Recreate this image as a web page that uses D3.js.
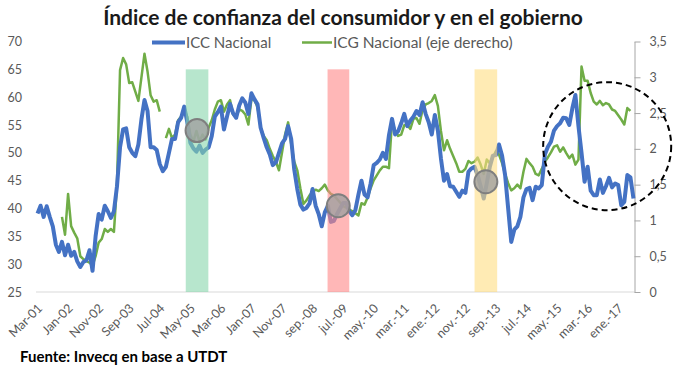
<!DOCTYPE html>
<html><head><meta charset="utf-8">
<script src="https://cdn.jsdelivr.net/npm/d3@7"></script>
<style>
body{margin:0;background:#fff;}
svg{display:block;font-family:Lato,"Open Sans",sans-serif;}
</style></head><body>
<svg id="c" width="679" height="369"></svg>
<script>
// Monthly data: Mar-2001 .. Jun-2017 (196 months)
const icc = [39.1,40.5,38.5,40.4,38.5,36.8,33.5,32.2,34,31.6,33.5,31.5,32.2,30.5,29.5,30.4,30.7,32.5,28.8,35,
39,38,40.5,39.5,38.3,39.5,44,51,54.2,54.4,51,50,49.4,51.5,56,59.5,57.5,51,51,50.5,
48,46.7,47.5,50,52.5,52.5,55.5,56.3,58.3,55.5,51.8,50.8,50.2,51.3,50,50.6,51,53,56.5,57.3,
58.3,54.2,56.5,58.8,57.1,56.3,58.5,59.8,59,57,60.7,59.6,58.7,54.5,52.7,51,49.7,47.8,48.3,50,
51.7,52.5,54.8,52.5,47,43.5,40.7,39.8,40.1,40.9,43.5,40.5,39,36.8,39.3,40.5,37.6,37.8,39,40,
41,41,39.5,38.8,39.7,42.5,45,42.5,42,44.5,47.8,48.2,48.8,50,48.9,53.2,56.1,53.3,53.9,55.3,
57,54.8,55.8,56.5,57.5,56.8,59.1,57,55.5,53.3,56.8,54,49,45,46.2,44,43.9,43,42.1,43.2,
42.8,46.6,47.2,47.5,46,44,41.8,44.5,47.5,49.5,49.6,51.5,49.5,46,40,34,36.2,36.8,38.5,42,
43.5,43.7,41.5,43.9,43.6,44.2,49.7,51.1,52,54,54.8,55.3,56.3,56.2,55,58,60.4,54.8,50,44.8,
47.5,43.2,42.4,42.4,45.2,42.8,44,45.5,43.8,44.5,44.2,40.6,41.2,46,45.6,41.8];
const icg = [null,null,null,null,null,null,null,null,1.05,0.8,1.37,0.92,0.83,0.75,0.5,0.46,0.43,0.41,0.37,0.5,
0.69,0.74,0.88,0.84,0.88,0.84,1.5,3.1,3.27,3.18,2.92,2.93,2.8,2.67,3.0,3.33,3.08,2.75,2.66,2.68,
2.52,null,2.15,2.28,2.15,2.2,2.4,2.45,2.55,2.45,2.2,2.1,2.25,2.1,2.2,2.13,2.3,2.4,2.55,2.66,
2.68,2.52,2.62,2.68,2.48,2.45,2.55,2.53,2.48,2.34,2.7,2.68,2.58,2.3,2.18,2.12,2.0,1.9,1.82,1.7,
1.95,2.2,2.37,2.07,1.82,1.7,1.45,1.23,1.28,1.35,1.4,1.43,1.41,1.45,1.5,1.42,1.37,1.35,1.3,1.25,
1.2,1.18,1.15,1.13,1.1,1.07,1.24,1.22,1.32,1.45,1.56,1.63,1.7,1.75,1.75,1.73,2.4,2.25,2.18,2.2,
2.33,2.33,2.28,2.42,2.43,2.35,2.55,2.62,2.64,2.67,2.75,2.6,2.25,1.98,2.12,2.0,1.9,1.8,1.68,1.68,
1.72,1.83,1.8,1.82,1.88,1.78,1.65,1.85,1.8,1.88,1.97,1.92,1.8,1.65,1.52,1.42,1.45,1.5,1.45,1.68,
1.86,1.8,1.75,1.65,1.63,1.72,1.82,1.88,1.95,2.03,2.05,1.96,2.02,1.94,1.87,1.92,1.78,1.85,3.15,2.95,
2.95,2.78,2.66,2.62,2.67,2.61,2.64,2.62,2.55,2.53,2.47,2.41,2.34,2.57,2.53,null];
const tickIdx = [0,10,20,30,40,50,60,70,80,90,100,110,120,130,140,150,160,170,180,190];
const tickLabels = ["Mar-01","Jan-02","Nov-02","Sep-03","Jul-04","May-05","Mar-06","Jan-07","Nov-07","sep.-08",
"jul.-09","may.-10","mar.-11","ene.-12","nov.-12","sep.-13","jul.-14","may.-15","mar.-16","ene.-17"];
const leftTicks = [25,30,35,40,45,50,55,60,65,70];
const rightTicks = [0,0.5,1,1.5,2,2.5,3,3.5];
// highlighted periods (month-position start/end, band top value on left axis)
const bandStart = [49, 95.4, 143.5];
const bandEnd = [56.4, 102.5, 150.9];
const bandTop = 65;
const bandColors = ["rgb(135,213,172)","rgb(255,135,135)","rgb(255,222,130)"];
// circle markers (month position, left-axis value)
const markPos = [52.7, 98.9, 147.2];
const markVal = [54.0, 40.5, 44.8];
const dashPos = 186.9, dashVal = 51.2;

const N = icc.length;
const svg = d3.select("#c");
const x = d3.scaleLinear().domain([0, N]).range([36, 635]);
const yL = d3.scaleLinear().domain([25, 70]).range([292, 41.5]);
const yR = d3.scaleLinear().domain([0, 3.5]).range([292, 41.5]);
const txt = "#595959";

// title
svg.append("text").attr("x", 343).attr("y", 25).attr("text-anchor", "middle")
  .style("font-size", "21px").style("font-weight", "700").attr("fill", "#1a1a1a")
  .text("Índice de confianza del consumidor y en el gobierno");

// baseline
svg.append("line").attr("x1", 36).attr("x2", 634.5).attr("y1", yL(25)).attr("y2", yL(25))
  .attr("stroke", "#d9d9d9").attr("stroke-width", 1);

// left axis
const gl = svg.append("g").attr("transform", "translate(22,0)")
  .call(d3.axisLeft(yL).tickValues(leftTicks).tickSize(0).tickPadding(0));
gl.select(".domain").remove();
gl.selectAll("text").style("font-size", "12.5px").style("font-family", "Lato").attr("fill", txt);

// right axis
const loc = d3.formatLocale({decimal: ",", thousands: ".", grouping: [3], currency: ["$", ""]});
const gr = svg.append("g").attr("transform", "translate(634.5,0)")
  .call(d3.axisRight(yR).tickValues(rightTicks).tickSize(6).tickSizeOuter(0).tickPadding(9).tickFormat(loc.format("~g")));
gr.select(".domain").attr("stroke", "#a6a6a6");
gr.selectAll("line").attr("stroke", "#a6a6a6");
gr.selectAll("text").style("font-size", "12.5px").style("font-family", "Lato").attr("fill", txt);

// x axis labels
const gx = svg.append("g").attr("transform", "translate(0,292)")
  .call(d3.axisBottom(x).tickValues(tickIdx.map(d => d + 0.5)).tickSize(0)
    .tickFormat((d, i) => tickLabels[i]));
gx.select(".domain").remove();
gx.selectAll("text").attr("y", 0).attr("dy", 0).attr("text-anchor", "end")
  .attr("transform", "translate(5,17) rotate(-45)")
  .style("font-size", "12.5px").style("font-family", "Lato").attr("fill", txt);

// lines
const lineG = d3.line().defined(d => d != null).x((d, i) => x(i + 0.5)).y(d => yR(d));
const lineB = d3.line().defined(d => d != null).x((d, i) => x(i + 0.5)).y(d => yL(d));
svg.append("path").attr("d", lineG(icg)).attr("fill", "none").attr("stroke", "#70AD47")
  .attr("stroke-width", 2.5).attr("stroke-linejoin", "round");
svg.append("path").attr("d", lineB(icc)).attr("fill", "none").attr("stroke", "#4472C4")
  .attr("stroke-width", 4).attr("stroke-linejoin", "round");

// bands (translucent, over lines)
bandStart.forEach((s, k) => {
  svg.append("rect").attr("x", x(s)).attr("width", x(bandEnd[k]) - x(s))
    .attr("y", yL(bandTop)).attr("height", yL(25) - yL(bandTop))
    .attr("fill", bandColors[k]).attr("fill-opacity", 0.6);
});
// grey circle markers
markPos.forEach((p, k) => {
  svg.append("circle").attr("cx", x(p)).attr("cy", yL(markVal[k])).attr("r", 11.5)
    .attr("fill", "rgb(160,160,160)").attr("fill-opacity", 0.8)
    .attr("stroke", "#7f7f7f").attr("stroke-width", 2);
});
// dashed circle
svg.append("circle").attr("cx", x(dashPos)).attr("cy", yL(dashVal)).attr("r", 64)
  .attr("fill", "none").attr("stroke", "#000").attr("stroke-width", 2).attr("stroke-dasharray", "6,4");

// legend
const lg = svg.append("g");
lg.append("line").attr("x1", 152).attr("x2", 185).attr("y1", 42.5).attr("y2", 42.5)
  .attr("stroke", "#4472C4").attr("stroke-width", 4);
lg.append("text").attr("x", 186).attr("y", 48).text("ICC Nacional")
  .style("font-size", "15px").attr("fill", txt);
lg.append("line").attr("x1", 302).attr("x2", 332).attr("y1", 42.5).attr("y2", 42.5)
  .attr("stroke", "#70AD47").attr("stroke-width", 2.5);
lg.append("text").attr("x", 333).attr("y", 48).text("ICG Nacional (eje derecho)")
  .style("font-size", "15.5px").attr("fill", txt);

// source
svg.append("text").attr("x", 20).attr("y", 362).text("Fuente: Invecq en base a UTDT")
  .style("font-size", "15px").style("font-weight", "700").attr("fill", "#000");
</script></body></html>
